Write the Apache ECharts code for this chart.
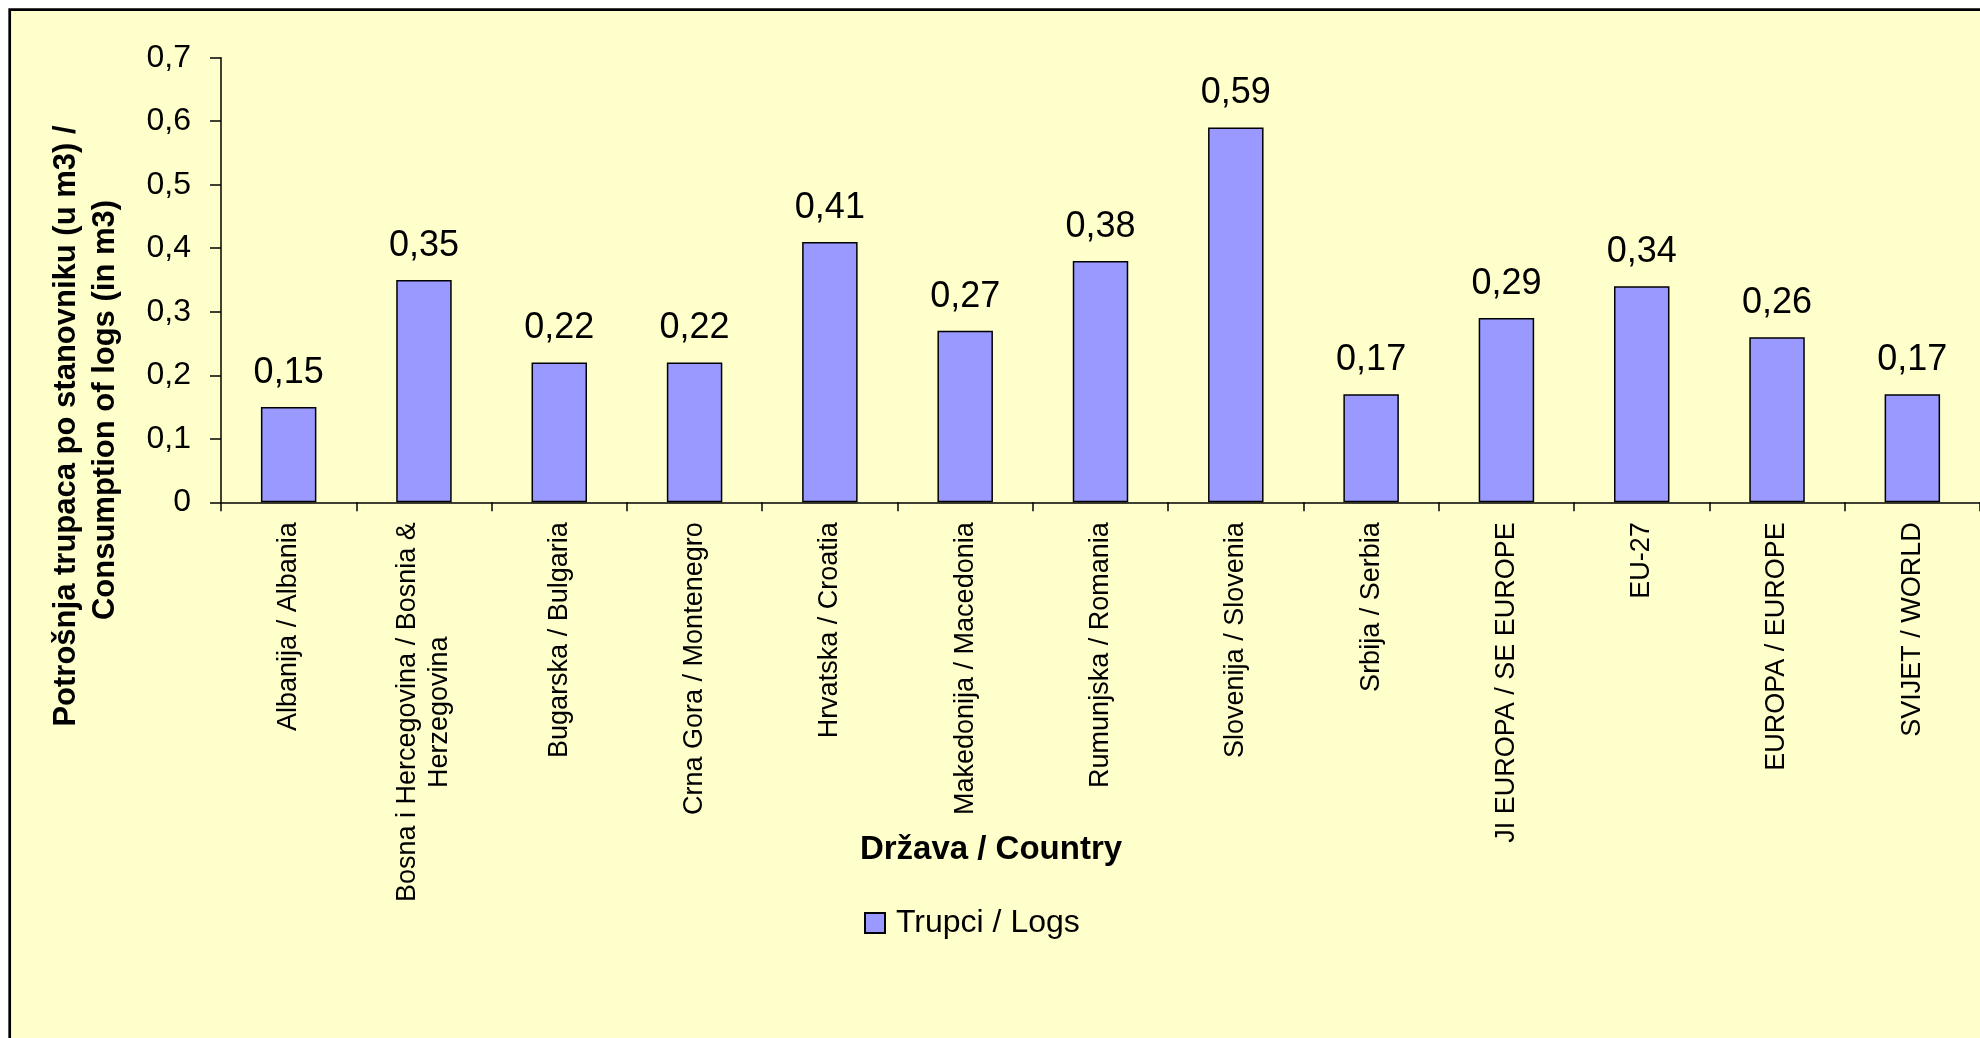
<!DOCTYPE html>
<html>
<head>
<meta charset="utf-8">
<script src="https://cdn.jsdelivr.net/npm/echarts@6/dist/echarts.min.js"></script>
<style>
html,body{margin:0;padding:0;background:#fff;}
#chart{width:1980px;height:1038px;}
</style>
</head>
<body>
<div id="chart"></div>
<script>
const categories = [
  'Albanija / Albania',
  'Bosna i Hercegovina / Bosnia &\nHerzegovina',
  'Bugarska / Bulgaria',
  'Crna Gora / Montenegro',
  'Hrvatska / Croatia',
  'Makedonija / Macedonia',
  'Rumunjska / Romania',
  'Slovenija / Slovenia',
  'Srbija / Serbia',
  'JI EUROPA / SE EUROPE',
  'EU-27',
  'EUROPA / EUROPE',
  'SVIJET / WORLD'
];
const logsValues = [0.15, 0.35, 0.22, 0.22, 0.41, 0.27, 0.38, 0.59, 0.17, 0.29, 0.34, 0.26, 0.17];
const yTickLabels = ['0', '0,1', '0,2', '0,3', '0,4', '0,5', '0,6', '0,7'];
const seriesName = 'Trupci / Logs';
const xTitle = 'Država / Country';
const yTitleLines = ['Potrošnja trupaca po stanovniku (u m3) /', 'Consumption of logs (in m3)'];

const FONT = '"Liberation Sans", Arial, sans-serif';

const chart = echarts.init(document.getElementById('chart'), null, {renderer: 'canvas'});
chart.setOption({
  backgroundColor: '#ffffff',
  animation: false,
  grid: {left: 221, top: 57.7, width: 1760, height: 444.6, containLabel: false},
  graphic: [
    {type: 'rect', z: -100, shape: {x: 9.7, y: 9.7, width: 2100, height: 1200},
     style: {fill: '#FFFFCC', stroke: '#000', lineWidth: 2.7}},
    {type: 'text', z: 10, x: 991, y: 850,
     style: {text: xTitle, font: 'bold 33px ' + FONT, fill: '#000',
             textAlign: 'center', textVerticalAlign: 'middle'}},
    {type: 'text', z: 10, x: 66, y: 426, rotation: Math.PI / 2,
     style: {text: yTitleLines[0], font: 'bold 31px ' + FONT, fill: '#000',
             textAlign: 'center', textVerticalAlign: 'middle'}},
    {type: 'text', z: 10, x: 105, y: 410, rotation: Math.PI / 2,
     style: {text: yTitleLines[1], font: 'bold 31px ' + FONT, fill: '#000',
             textAlign: 'center', textVerticalAlign: 'middle'}}
  ],
  legend: {
    left: 859, top: 902,
    itemWidth: 20, itemHeight: 20,
    icon: 'rect',
    textStyle: {fontFamily: FONT, fontSize: 32, color: '#000', padding: [0, 0, 0, 6]},
    data: [seriesName]
  },
  xAxis: {
    type: 'category',
    data: categories,
    boundaryGap: true,
    axisLine: {lineStyle: {color: '#000', width: 1.5}},
    axisTick: {show: true, length: 9, lineStyle: {color: '#000', width: 1.5}},
    axisLabel: {
      interval: 0, rotate: 90, margin: 20,
      fontFamily: FONT, fontSize: 27, color: '#000', lineHeight: 32,
      formatter: function (v) {
        return v.split('\n').map(function (s) { return '{c|' + s + '}'; }).join('\n');
      },
      rich: {c: {align: 'center', fontFamily: FONT, fontSize: 27, color: '#000', lineHeight: 32}}
    },
    splitLine: {show: false}
  },
  yAxis: {
    type: 'value',
    min: 0, max: 0.7, interval: 0.1,
    axisLine: {show: true, lineStyle: {color: '#000', width: 1.5}},
    axisTick: {show: true, length: 11, lineStyle: {color: '#000', width: 1.5}},
    axisLabel: {
      margin: 30, fontFamily: FONT, fontSize: 32, color: '#000',
      formatter: function (v) { return yTickLabels[Math.round(v * 10)]; }
    },
    splitLine: {show: false}
  },
  series: [{
    name: seriesName,
    type: 'bar',
    data: logsValues,
    barWidth: '41%',
    itemStyle: {color: '#9999FF', borderColor: '#000', borderWidth: 1.5},
    label: {
      show: true, position: 'top', distance: 16,
      fontFamily: FONT, fontSize: 36, color: '#000',
      formatter: function (p) { return String(p.value).replace('.', ','); }
    }
  }]
});
</script>
</body>
</html>
